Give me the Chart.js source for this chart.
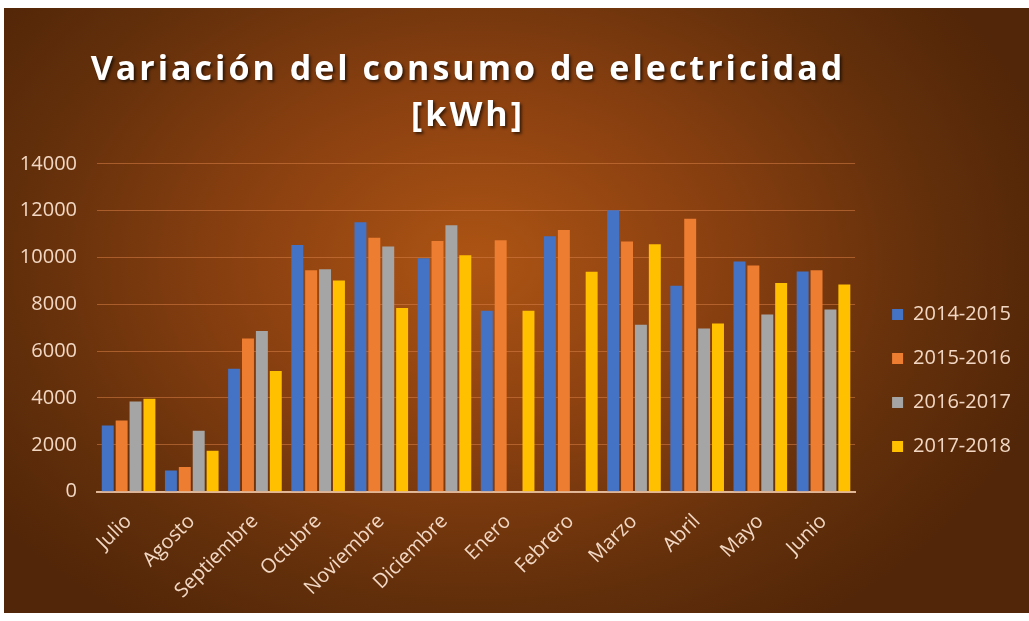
<!DOCTYPE html>
<html>
<head>
<meta charset="utf-8">
<script src="https://cdn.jsdelivr.net/npm/chart.js@4.4.1/dist/chart.umd.min.js"></script>
<style>
  body { margin: 0; background: #fff; }
  #wrap {
    position: absolute; left: 4px; top: 8px; width: 1025px; height: 605px;
    background: radial-gradient(ellipse 58% 72% at 46% 42%, #ad5414 0%, #8a4010 40%, #64300b 75%, #522608 100%);
  }
</style>
</head>
<body>
<div id="wrap"><canvas id="consumo"></canvas></div>
<script>
const meses = ["Julio", "Agosto", "Septiembre", "Octubre", "Noviembre", "Diciembre",
  "Enero", "Febrero", "Marzo", "Abril", "Mayo", "Junio"];

const serie2014 = [2830, 900, 5250, 10530, 11500, 9970, 7730, 10910, 12020, 8790, 9830, 9400];
const serie2015 = [3040, 1050, 6540, 9450, 10840, 10700, 10740, 11170, 10680, 11650, 9660, 9450];
const serie2016 = [3850, 2600, 6860, 9500, 10470, 11380, 0, 0, 7130, 6970, 7570, 7780];
const serie2017 = [3970, 1750, 5150, 9020, 7840, 10090, 7730, 9390, 10570, 7180, 8910, 8850];

const yTicks = [0, 2000, 4000, 6000, 8000, 10000, 12000, 14000];

const tituloLineas = ["Variación del consumo de electricidad", "[kWh]"];

const colores = ["#4472c4", "#ed7d31", "#a5a5a5", "#ffc000"];
const textColor = "#f2d8c4";

// widen the title letters like the original and pull it a bit to the left
const titleSpacing = {
  id: "titleSpacing",
  afterInit(chart) {
    const tb = chart.titleBlock;
    const orig = tb.draw.bind(tb);
    tb.draw = function () {
      const ctx = chart.ctx;
      ctx.save();
      ctx.translate(-50, 0);
      ctx.letterSpacing = "3px";
      ctx.shadowColor = "rgba(0,0,0,0.6)";
      ctx.shadowOffsetX = 2;
      ctx.shadowOffsetY = 2;
      ctx.shadowBlur = 3;
      orig();
      ctx.restore();
    };
  }
};

function makeSet(label, data, i) {
  return {
    label: label,
    data: data,
    yAxisID: "y",
    backgroundColor: colores[i],
    borderWidth: 0,
    categoryPercentage: 0.88,
    barPercentage: 0.86
  };
}

const ctx = document.getElementById("consumo").getContext("2d");
const chart = new Chart(ctx, {
  type: "bar",
  data: {
    labels: meses,
    datasets: [
      makeSet("2014-2015", serie2014, 0),
      makeSet("2015-2016", serie2015, 1),
      makeSet("2016-2017", serie2016, 2),
      makeSet("2017-2018", serie2017, 3)
    ]
  },
  options: {
    responsive: true,
    maintainAspectRatio: false,
    animation: false,
    layout: { padding: { left: 11, right: 8, top: 0, bottom: 0 } },
    scales: {
      x: {
        grid: { display: false },
        border: { display: true, color: "rgba(235,195,165,0.9)", width: 2 },
        ticks: {
          color: textColor,
          font: { family: "Open Sans", size: 20 },
          minRotation: 45,
          maxRotation: 45,
          padding: 10
        },
        afterFit(scale) {
          scale.paddingLeft = 0;
          scale.paddingRight = 0;
        }
      },
      y: {
        min: 0,
        max: 14000,
        afterBuildTicks(scale) {
          scale.ticks = yTicks.map(v => ({ value: v }));
        },
        afterFit(scale) { scale.width = 82; },
        grid: { color: "rgba(215,125,70,0.55)", lineWidth: 1, drawTicks: false },
        border: { display: false },
        ticks: {
          color: textColor,
          font: { family: "Open Sans", size: 20 },
          padding: 20,
          callback: v => String(v)
        }
      },
      y2: {
        position: "right",
        grid: { display: false },
        border: { display: false },
        ticks: { display: false },
        afterFit(scale) { scale.width = 13; }
      }
    },
    plugins: {
      title: {
        display: true,
        text: tituloLineas,
        color: "#ffffff",
        font: { family: "Open Sans", size: 34, weight: "bold", lineHeight: 1.35 },
        padding: { top: 39, bottom: 25 }
      },
      legend: {
        position: "right",
        align: "center",
        title: {
          display: true,
          text: " ",
          font: { size: 1, lineHeight: 1 },
          padding: { top: 139, bottom: 0 }
        },
        labels: {
          color: textColor,
          font: { family: "Open Sans", size: 20 },
          boxWidth: 11,
          boxHeight: 11,
          padding: 24
        }
      },
      tooltip: { enabled: false }
    }
  },
  plugins: [titleSpacing]
});
</script>
</body>
</html>
